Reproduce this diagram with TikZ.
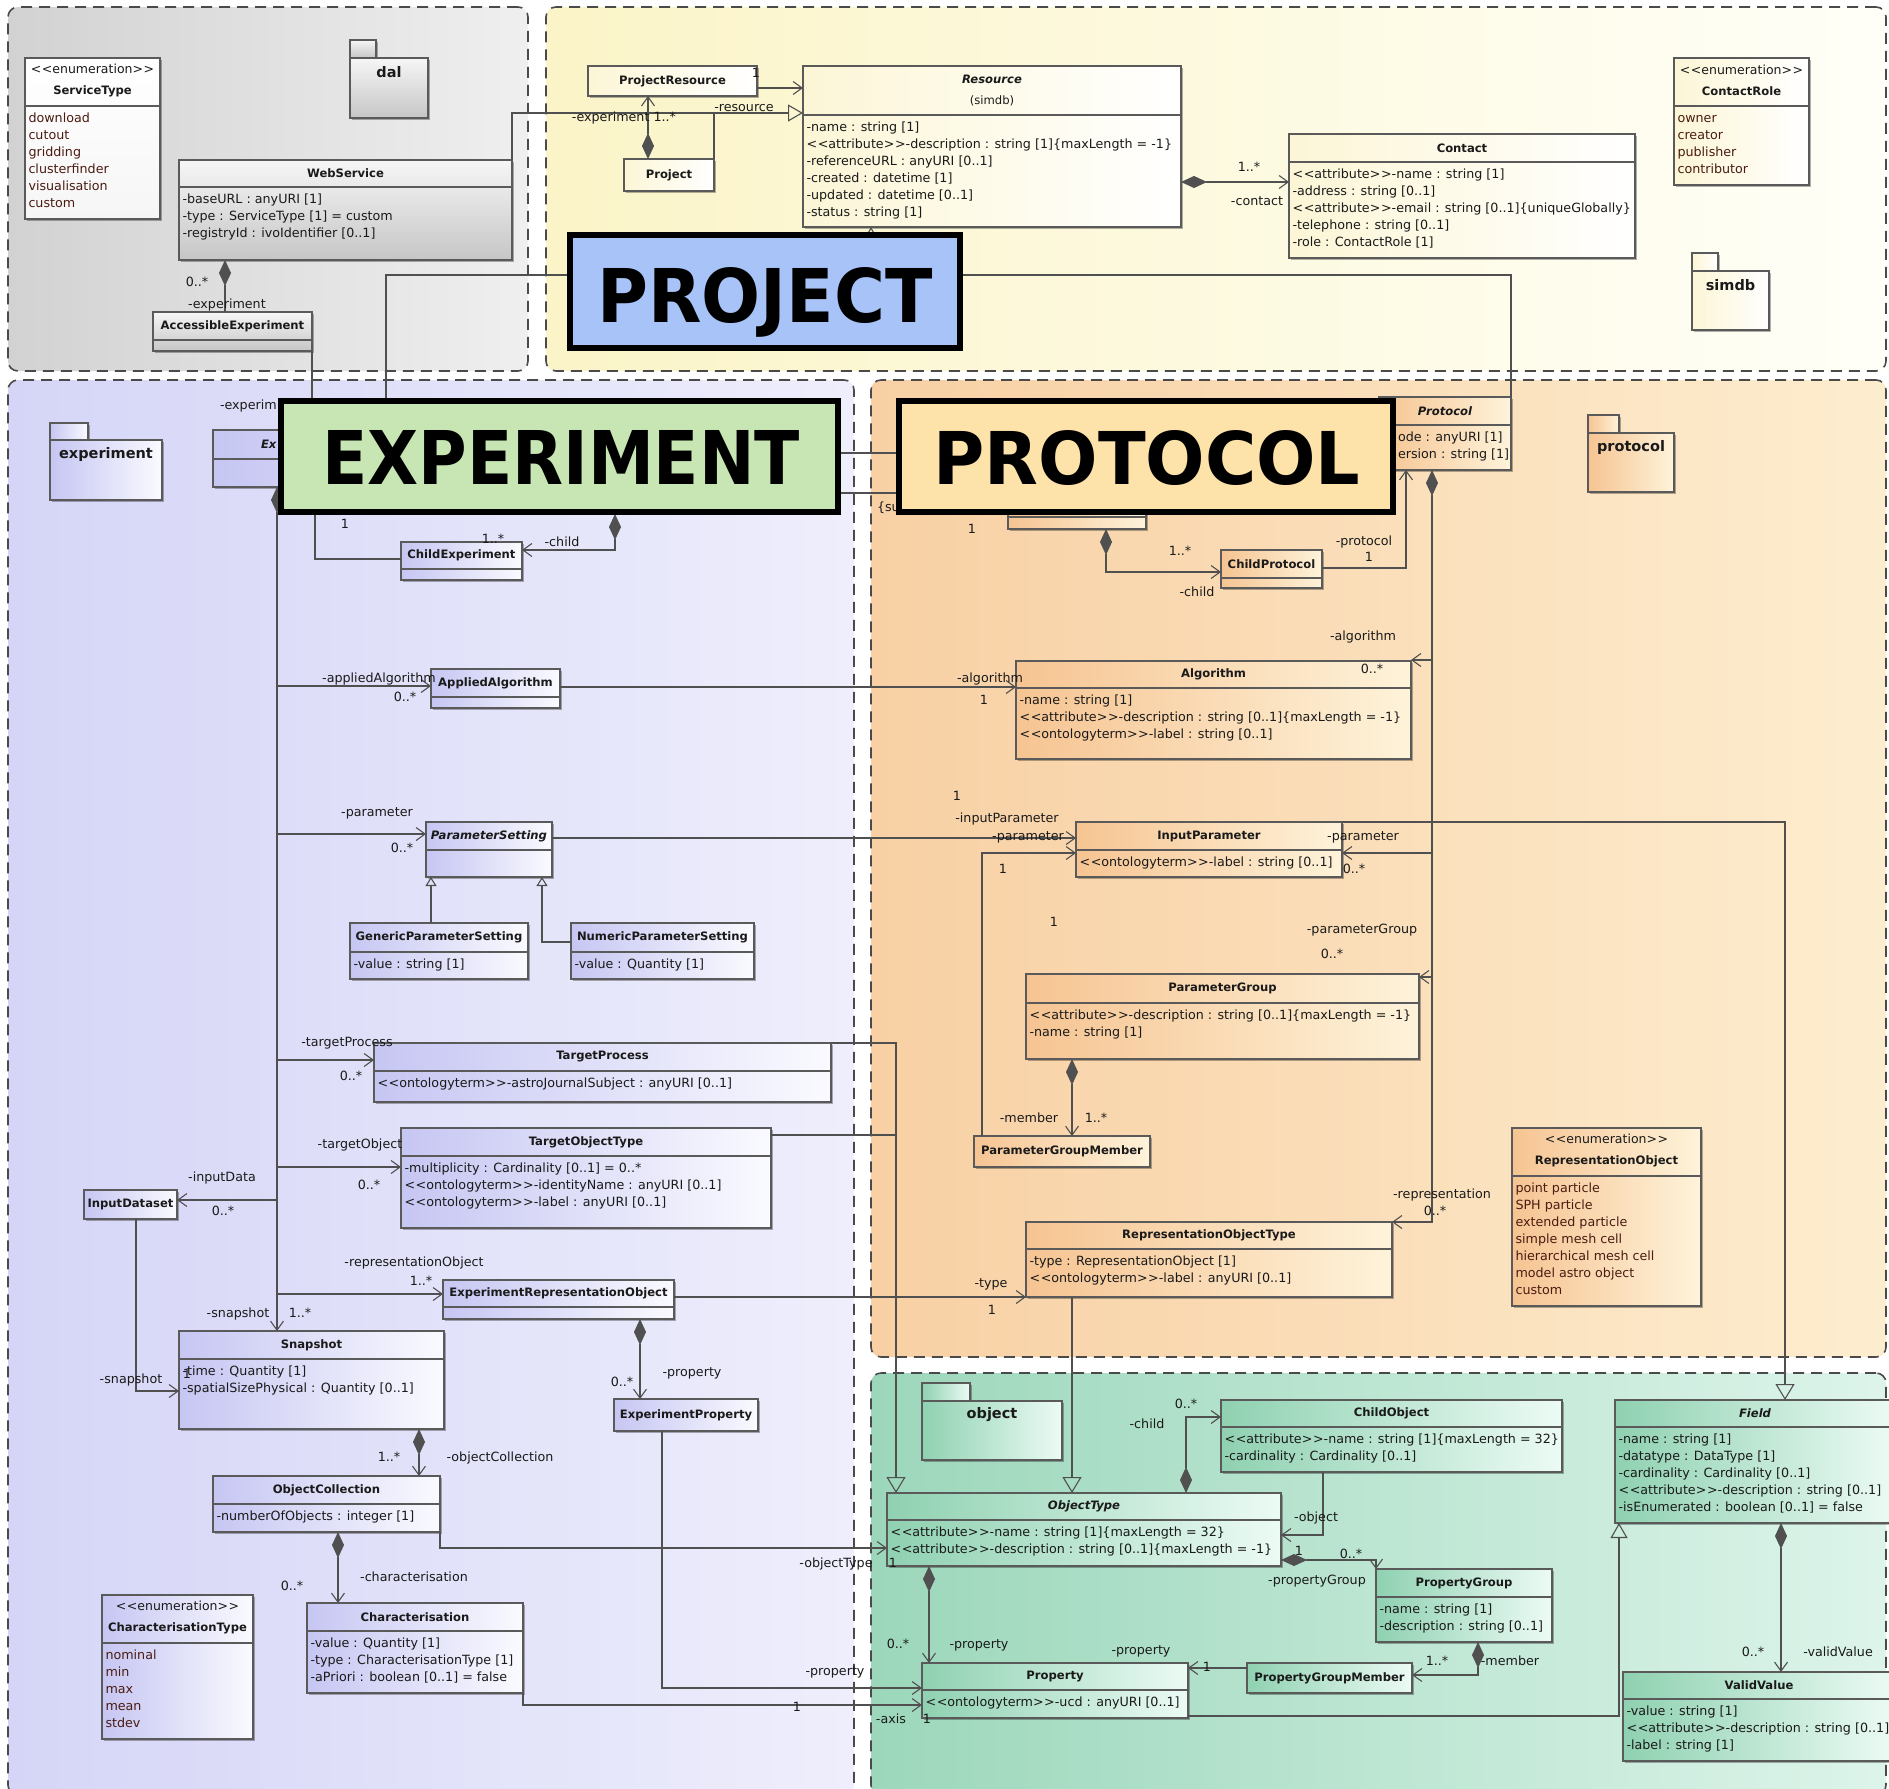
\documentclass[tikz,border=0pt]{standalone}
\usepackage{graphicx}
\usepackage{fontspec}
\setmainfont{DejaVu Sans}
\usetikzlibrary{arrows.meta,fit,shadows}
\definecolor{linec}{HTML}{505050}
\definecolor{boxc}{HTML}{5A5A5A}
\definecolor{txt}{HTML}{1A1A1A}
\definecolor{enumc}{HTML}{4A1C12}
\definecolor{regc}{HTML}{4A4A4A}
\definecolor{dalL}{HTML}{D2D2D2}
\definecolor{dalR}{HTML}{EFEFEF}
\definecolor{simL}{HTML}{FBF4C8}
\definecolor{simR}{HTML}{FFFFF8}
\definecolor{expL}{HTML}{D5D5F7}
\definecolor{expR}{HTML}{EEEEFC}
\definecolor{proL}{HTML}{F8D0A4}
\definecolor{proR}{HTML}{FDEDCF}
\definecolor{objL}{HTML}{9CD7BB}
\definecolor{objR}{HTML}{DDF4EA}
\definecolor{expBL}{HTML}{C6C6F3}
\definecolor{expBR}{HTML}{FAFAFF}
\definecolor{proBL}{HTML}{F6C492}
\definecolor{proBR}{HTML}{FEF3DA}
\definecolor{objBL}{HTML}{8FD1B1}
\definecolor{objBR}{HTML}{ECFBF5}
\definecolor{simBL}{HTML}{FCF6D6}
\definecolor{simBR}{HTML}{FFFFFF}
\definecolor{dalBT}{HTML}{F6F6F6}
\definecolor{dalBB}{HTML}{C6C6C6}
\definecolor{projc}{HTML}{A7C3F7}
\definecolor{expc}{HTML}{C8E6B3}
\definecolor{protc}{HTML}{FDE2A9}
\newcommand\attrf{\fontsize{12.7}{17}\selectfont}
\newcommand\titlef{\fontsize{11.6}{17}\selectfont\bfseries}
\newcommand\pkgf{\fontsize{14.5}{17}\selectfont\bfseries}
\newcommand\sterm[1]{<\kern0.6pt<#1>\kern0.6pt>}
\tikzset{
  every node/.style={inner sep=0pt, outer sep=0pt, text=txt},
  boxline/.style={draw=boxc, line width=1.1pt},
  ub/.style={draw=boxc, line width=1.1pt, drop shadow={shadow xshift=2pt, shadow yshift=-2pt, opacity=0.3, fill=black}},
  expbox/.style={ub, left color=expBL, right color=expBR},
  probox/.style={ub, left color=proBL, right color=proBR},
  objbox/.style={ub, left color=objBL, right color=objBR},
  simbox/.style={ub, left color=simBL, right color=simBR},
  dalbox/.style={ub, top color=dalBT, bottom color=dalBB},
  whitebox/.style={ub, top color=white, bottom color=dalBT},
  region/.style={draw=regc, line width=1.6pt, dash pattern=on 11pt off 7pt, rounded corners=10pt},
  ttl/.style={font=\titlef, align=center},
  attr/.style={font=\attrf, anchor=base west},
  lab/.style={font=\attrf, text height=9pt, text depth=2.5pt},
  pkgt/.style={font=\pkgf},
  biglab/.style={draw=black, line width=5.5pt},
  bigt/.style={text=black, anchor=base},
  con/.style={draw=linec, line width=1.1pt},
  oa/.style={con, -{Straight Barb[length=9pt,width=13pt]}},
  comp/.style={con, {Diamond[length=26pt,width=12pt]}-},
  compoa/.style={con, {Diamond[length=26pt,width=12pt]}-{Straight Barb[length=9pt,width=13pt]}},
  gen/.style={con, -{Triangle[open,length=15pt,width=17pt]}},
  gens/.style={con, -{Triangle[open,length=9pt,width=11pt]}},
  genb/.style={con, -{Triangle[open,length=16pt,width=19pt]}},
}
% class with attributes: name, style, x1, y1, x2, ydiv, y2, title, attrs
\newcommand\cls[9]{%
  \node[#2,fit={(#3,#4) (#5,#7)}] (#1) {};
  \draw[boxline] (#1.west |- 0,#6) -- (#1.east |- 0,#6);
  \node[ttl] (#1-t) at ({(#3+#5)/2},{(#4+#6)/2}) {#8};
  \foreach \attrtxt [count=\cnt] in {#9}{%
    \node[attr] (#1-a\cnt) at ({#3+3.5},{#6+16.5+17*(\cnt-1)}) {\attrtxt};}%
}
% class with empty attribute compartment
\newcommand\ecls[8]{%
  \node[#2,fit={(#3,#4) (#5,#7)}] (#1) {};
  \draw[boxline] (#1.west |- 0,#6) -- (#1.east |- 0,#6);
  \node[ttl] (#1-t) at ({(#3+#5)/2},{(#4+#6)/2}) {#8};
}
% single compartment class
\newcommand\scls[7]{%
  \node[#2,fit={(#3,#4) (#5,#6)}] (#1) {};
  \node[ttl] (#1-t) at ({(#3+#5)/2},{(#4+#6)/2}) {#7};
}
% enumeration
\newcommand\enm[9]{%
  \node[#2,fit={(#3,#4) (#5,#7)}] (#1) {};
  \draw[boxline] (#1.west |- 0,#6) -- (#1.east |- 0,#6);
  \node[ttl] (#1-t) at ({(#3+#5)/2},{(#4+#6)/2-1.5}) {{\mdseries\fontsize{12.5}{17}\selectfont\sterm{enumeration}}\\[4pt]#8};
  \foreach \attrtxt [count=\cnt] in {#9}{%
    \node[attr, text=enumc] (#1-a\cnt) at ({#3+3.5},{#6+16.5+17*(\cnt-1)}) {\attrtxt};}%
}
% package icon: name, style, x1, ytab, xtab, ybody, x2, y2, label
\newcommand\pkg[9]{%
  \node[#2,fit={(#3,#4) (#5,#6)}] (#1-tab) {};
  \node[#2,fit={(#3,#6) (#7,#8)}] (#1) {};
  \node[pkgt] (#1-l) at ({(#3+#7)/2},{#6+14}) {#9};
}
\newcommand\lbl[5][]{\node[lab,#1] (#2) at (#3,#4) {#5};}

\begin{document}
\begin{tikzpicture}[x=1pt,y=-1pt]
\useasboundingbox (0,0) rectangle (1889,1788);
\fill[white] (0,0) rectangle (1889,1788);

% ---------------- regions
\node[region, left color=dalL, right color=dalR, fit={(8,7) (528,371)}] (rDal) {};
\node[region, left color=simL, right color=simR, fit={(546,7) (1886,371)}] (rSim) {};
\node[region, left color=expL, right color=expR, fit={(8,380) (854,1795)}] (rExp) {};
\node[region, left color=proL, right color=proR, fit={(871,380) (1886,1357)}] (rPro) {};
\node[region, left color=objL, right color=objR, fit={(871,1373) (1886,1795)}] (rObj) {};

\coordinate (eT) at (277,0);
\coordinate (pT) at (1432,0);
\coordinate (hidA) at (871,300);
\coordinate (hidB) at (615,514);
\coordinate (hidC) at (700,493);
\coordinate (jTO) at (896,1135);

% ---------------- dal
\enm{cServiceType}{whitebox}{25}{58}{160}{106}{219}{ServiceType}{download,cutout,gridding,clusterfinder,visualisation,custom}
\pkg{pDal}{dalbox}{350}{40}{376}{58}{428}{118}{dal}
\cls{cWebService}{dalbox}{179}{160}{512}{187}{260}{WebService}{-baseURL : anyURI [1],-type : ServiceType [1] = custom,-registryId : ivoIdentifier [0..1]}
\ecls{cAccExp}{dalbox}{153}{312}{312}{340}{351}{AccessibleExperiment}

% ---------------- simdb
\scls{cProjRes}{simbox}{588}{66}{757}{96}{ProjectResource}
\scls{cProject}{simbox}{624}{159}{714}{191}{Project}
\cls{cResource}{simbox}{803}{66}{1181}{115}{227}{{\itshape Resource}\\[4pt]{\mdseries (simdb)}}{-name : string [1],\sterm{attribute}-description : string [1]\{maxLength = -1\},-referenceURL : anyURI [0..1],-created : datetime [1],-updated : datetime [0..1],-status : string [1]}
\cls{cContact}{simbox}{1289}{134}{1635}{162}{258}{Contact}{\sterm{attribute}-name : string [1],-address : string [0..1],\sterm{attribute}-email : string [0..1]\{uniqueGlobally\},-telephone : string [0..1],-role : ContactRole [1]}
\enm{cContactRole}{simbox}{1674}{58}{1809}{106}{185}{ContactRole}{owner,creator,publisher,contributor}
\pkg{pSimdb}{simbox}{1692}{253}{1718}{271}{1769}{330}{simdb}

% ---------------- experiment
\pkg{pExperiment}{expbox}{50}{423}{88}{440}{162}{500}{experiment}
\node[expbox, fit={(213,430) (700,487)}] (cExperiment) {};
\draw[boxline] (cExperiment.west |- 0,459) -- (cExperiment.east |- 0,459);
\node[ttl, anchor=west] (cExperiment-t) at (261,444) {\itshape Ex};
\ecls{cChildExp}{expbox}{401}{542}{522}{569}{580}{ChildExperiment}
\ecls{cAppAlg}{expbox}{431}{669}{560}{697}{708}{AppliedAlgorithm}
\ecls{cParamSet}{expbox}{426}{822}{552}{850}{877}{\itshape ParameterSetting}
\cls{cGenPS}{expbox}{350}{923}{528}{952}{979}{GenericParameterSetting}{-value : string [1]}
\cls{cNumPS}{expbox}{571}{923}{754}{952}{979}{NumericParameterSetting}{-value : Quantity [1]}
\cls{cTargetProc}{expbox}{374}{1043}{831}{1071}{1102}{TargetProcess}{\sterm{ontologyterm}-astroJournalSubject : anyURI [0..1]}
\cls{cTargetObj}{expbox}{401}{1128}{771}{1156}{1228}{TargetObjectType}{-multiplicity : Cardinality [0..1] = 0..*,\sterm{ontologyterm}-identityName : anyURI [0..1],\sterm{ontologyterm}-label : anyURI [0..1]}
\scls{cInputDS}{expbox}{84}{1190}{177}{1219}{InputDataset}
\ecls{cERO}{expbox}{443}{1280}{674}{1307}{1319}{ExperimentRepresentationObject}
\cls{cSnapshot}{expbox}{179}{1331}{444}{1359}{1429}{Snapshot}{-time : Quantity [1],-spatialSizePhysical : Quantity [0..1]}
\scls{cExpProp}{expbox}{614}{1399}{758}{1431}{ExperimentProperty}
\cls{cObjColl}{expbox}{213}{1476}{440}{1504}{1532}{ObjectCollection}{-numberOfObjects : integer [1]}
\cls{cCharac}{expbox}{307}{1603}{523}{1631}{1693}{Characterisation}{-value : Quantity [1],-type : CharacterisationType [1],-aPriori : boolean [0..1] = false}
\enm{cCharType}{expbox}{102}{1595}{253}{1643}{1739}{CharacterisationType}{nominal,min,max,mean,stdev}

% ---------------- protocol
\pkg{pProtocol}{probox}{1588}{415}{1619}{433}{1674}{492}{protocol}
\node[probox, fit={(1379,397) (1511,470)}] (cProtocol) {};
\draw[boxline] (cProtocol.west |- 0,425) -- (cProtocol.east |- 0,425);
\node[ttl] (cProtocol-t) at (1445,411) {\itshape Protocol};
\node[attr] (cProtocol-a1) at (1398,441.5) {ode : anyURI [1]};
\node[attr] (cProtocol-a2) at (1398,458.5) {ersion : string [1]};
\node[probox, fit={(1008,480) (1146,529)}] (cHidP) {};
\draw[boxline] (cHidP.west |- 0,517) -- (cHidP.east |- 0,517);
\ecls{cChildProt}{probox}{1221}{550}{1322}{578}{588}{ChildProtocol}
\cls{cAlgorithm}{probox}{1016}{661}{1411}{688}{759}{Algorithm}{-name : string [1],\sterm{attribute}-description : string [0..1]\{maxLength = -1\},\sterm{ontologyterm}-label : string [0..1]}
\cls{cInputParam}{probox}{1076}{822}{1342}{850}{877}{InputParameter}{\sterm{ontologyterm}-label : string [0..1]}
\cls{cParamGroup}{probox}{1026}{974}{1419}{1003}{1059}{ParameterGroup}{\sterm{attribute}-description : string [0..1]\{maxLength = -1\},-name : string [1]}
\scls{cPGM}{probox}{974}{1136}{1150}{1167}{ParameterGroupMember}
\cls{cROT}{probox}{1026}{1222}{1392}{1249}{1297}{RepresentationObjectType}{-type : RepresentationObject [1],\sterm{ontologyterm}-label : anyURI [0..1]}
\enm{cRepObj}{probox}{1512}{1128}{1701}{1176}{1306}{RepresentationObject}{point particle,SPH particle,extended particle,simple mesh cell,hierarchical mesh cell,model astro object,custom}

% ---------------- object
\pkg{pObject}{objbox}{922}{1383}{970}{1401}{1062}{1460}{object}
\cls{cObjectType}{objbox}{887}{1493}{1281}{1520}{1566}{\itshape ObjectType}{\sterm{attribute}-name : string [1]\{maxLength = 32\},\sterm{attribute}-description : string [0..1]\{maxLength = -1\}}
\cls{cChildObj}{objbox}{1221}{1400}{1562}{1427}{1472}{ChildObject}{\sterm{attribute}-name : string [1]\{maxLength = 32\},-cardinality : Cardinality [0..1]}
\cls{cPropGroup}{objbox}{1376}{1569}{1552}{1597}{1642}{PropertyGroup}{-name : string [1],-description : string [0..1]}
\scls{cPGMem}{objbox}{1247}{1663}{1412}{1693}{PropertyGroupMember}
\cls{cProperty}{objbox}{922}{1663}{1188}{1690}{1718}{Property}{\sterm{ontologyterm}-ucd : anyURI [0..1]}
\cls{cField}{objbox}{1615}{1400}{1895}{1427}{1523}{\itshape Field}{-name : string [1],-datatype : DataType [1],-cardinality : Cardinality [0..1],\sterm{attribute}-description : string [0..1],-isEnumerated : boolean [0..1] = false}
\cls{cValidValue}{objbox}{1623}{1672}{1895}{1699}{1761}{ValidValue}{-value : string [1],\sterm{attribute}-description : string [0..1]\{maxLength = -1\},-label : string [1]}

% ---------------- connectors: dal / simdb
\draw[comp] (cWebService.south -| 225,0) -- (cAccExp.north -| 225,0);
\draw[con] (cAccExp.south -| 312,0) -- (cExperiment.north -| 312,0);
\draw[con] (cWebService.north east) |- (cProject.north east |- 0,113);
\draw[gen] (cProject.north east) |- (cResource.west |- 0,113);
\draw[oa] (cProjRes.east |- 0,88) -- (cResource.west |- 0,88);
\draw[compoa] (cProject.north -| 648,0) -- (cProjRes.south -| 648,0);
\draw[compoa] (cResource.east |- 0,182) -- (cContact.west |- 0,182);
\draw[gen] (hidA) -- (cResource.south -| hidA);
\draw[con] (cExperiment.north -| 386,0) |- (cProtocol.north east |- 0,275) -- (cProtocol.north east);

% ---------------- connectors: experiment
\draw[compoa] (cExperiment.south -| eT) -- (cSnapshot.north -| eT);
\draw[con] (cExperiment.south -| 315,0) |- (cChildExp.west |- 0,559);
\draw[compoa] (hidB) |- (cChildExp.east |- 0,550);
\draw[oa] (eT |- 0,686) -- (cAppAlg.west |- 0,686);
\draw[oa] (cAppAlg.east |- 0,687) -- (cAlgorithm.west |- 0,687);
\draw[oa] (eT |- 0,834) -- (cParamSet.west |- 0,834);
\draw[oa] (cParamSet.east |- 0,838) -- (cInputParam.west |- 0,838);
\draw[gens] (cGenPS.north -| 431,0) -- (cParamSet.south -| 431,0);
\draw[gens] (cNumPS.west |- 0,942) -| (cParamSet.south -| 542,0);
\draw[oa] (eT |- 0,1060) -- (cTargetProc.west |- 0,1060);
\draw[genb] (cTargetProc.north east) -| (cObjectType.north -| 896,0);
\draw[con] (cTargetObj.east |- jTO) -- (jTO);
\draw[oa] (eT |- 0,1167) -- (cTargetObj.west |- 0,1167);
\draw[oa] (eT |- 0,1200) -- (cInputDS.east |- 0,1200);
\draw[oa] (cInputDS.south -| 136,0) |- (cSnapshot.west |- 0,1391);
\draw[oa] (eT |- 0,1294) -- (cERO.west |- 0,1294);
\draw[oa] (cERO.east |- 0,1297) -- (cROT.west |- 0,1297);
\draw[compoa] (cERO.south -| 640,0) -- (cExpProp.north -| 640,0);
\draw[oa] (cExpProp.south -| 662,0) |- (cProperty.west |- 0,1688);
\draw[compoa] (cSnapshot.south -| 419,0) -- (cObjColl.north -| 419,0);
\draw[oa] (cObjColl.south east) |- (cObjectType.west |- 0,1548);
\draw[compoa] (cObjColl.south -| 338,0) -- (cCharac.north -| 338,0);
\draw[oa] (cCharac.south east) |- (cProperty.west |- 0,1705);

% ---------------- connectors: protocol
\draw[con] (cExperiment.east |- 0,453) -- (cProtocol.west |- 0,453);
\draw[con] (hidC) -- (cHidP.west |- hidC);
\draw[compoa] (cHidP.south -| 1106,0) |- (cChildProt.west |- 0,572);
\draw[oa] (cChildProt.east |- 0,568) -| (cProtocol.south -| 1406,0);
\draw[compoa] (cProtocol.south -| pT) |- (cROT.east |- 0,1222);
\draw[oa] (pT |- 0,660) -- (cAlgorithm.east |- 0,660);
\draw[oa] (pT |- 0,853) -- (cInputParam.east |- 0,853);
\draw[oa] (pT |- 0,977) -- (cParamGroup.east |- 0,977);
\draw[genb] (cInputParam.north east) -| (cField.north -| 1785,0);
\draw[oa] (cPGM.north -| 982,0) |- (cInputParam.west |- 0,853);
\draw[compoa] (cParamGroup.south -| 1072,0) -- (cPGM.north -| 1072,0);
\draw[genb] (cROT.south -| 1072,0) -- (cObjectType.north -| 1072,0);

% ---------------- connectors: object
\draw[compoa] (cObjectType.north -| 1186,0) |- (cChildObj.west |- 0,1417);
\draw[oa] (cChildObj.south -| 1323,0) |- (cObjectType.east |- 0,1535);
\draw[compoa] (cObjectType.east |- 0,1560) -| (cPropGroup.north west);
\draw[compoa] (cPropGroup.south -| 1478,0) |- (cPGMem.east |- 0,1675);
\draw[oa] (cPGMem.west |- 0,1668) -- (cProperty.east |- 0,1668);
\draw[gen] (cProperty.east |- 0,1716) -| (cField.south -| 1619,0);
\draw[compoa] (cField.south -| 1781,0) -- (cValidValue.north -| 1781,0);
\draw[compoa] (cObjectType.south -| 929,0) -- (cProperty.north -| 929,0);

% ---------------- labels
\lbl{l1}{197}{283}{0..*}
\lbl{l2}{227}{305}{-experiment}
\lbl{l3}{624}{118}{-experiment 1..*}
\lbl{l4}{744}{108}{-resource}
\lbl{l5}{756}{74}{1}
\lbl{l6}{1249}{168}{1..*}
\lbl{l7}{1257}{202}{-contact}
\lbl[anchor=west]{l8}{220}{406}{-experim}
\lbl{l9}{345}{525}{1}
\lbl{l10}{493}{540}{1..*}
\lbl{l11}{562}{543}{-child}
\lbl{l12}{379}{679}{-appliedAlgorithm}
\lbl{l13}{405}{698}{0..*}
\lbl{l14}{377}{813}{-parameter}
\lbl{l15}{402}{849}{0..*}
\lbl{l16}{347}{1043}{-targetProcess}
\lbl{l17}{351}{1077}{0..*}
\lbl{l18}{360}{1145}{-targetObject}
\lbl{l19}{369}{1186}{0..*}
\lbl{l20}{222}{1178}{-inputData}
\lbl{l21}{223}{1212}{0..*}
\lbl{l22}{414}{1263}{-representationObject}
\lbl{l23}{421}{1282}{1..*}
\lbl{l24}{238}{1314}{-snapshot}
\lbl{l25}{300}{1314}{1..*}
\lbl{l26}{131}{1380}{-snapshot}
\lbl{l27}{187}{1375}{1}
\lbl{l28}{389}{1458}{1..*}
\lbl{l29}{500}{1458}{-objectCollection}
\lbl{l30}{292}{1587}{0..*}
\lbl{l31}{414}{1578}{-characterisation}
\lbl{l32}{692}{1373}{-property}
\lbl{l33}{622}{1383}{0..*}
\lbl{l34}{836}{1564}{-objectType}
\lbl{l35}{893}{1564}{1}
\lbl{l36}{835}{1672}{-property}
\lbl{l37}{797}{1708}{1}
\lbl{l38}{891}{1720}{-axis}
\lbl{l39}{927}{1720}{1}
\lbl[anchor=west]{l40}{877}{508}{\{su}
\lbl{l41}{972}{530}{1}
\lbl{l42}{1180}{552}{1..*}
\lbl{l43}{1197}{593}{-child}
\lbl{l44}{1364}{542}{-protocol}
\lbl{l45}{1369}{558}{1}
\lbl{l46}{1363}{637}{-algorithm}
\lbl{l47}{1372}{670}{0..*}
\lbl{l48}{990}{679}{-algorithm}
\lbl{l49}{984}{701}{1}
\lbl{l50}{957}{797}{1}
\lbl{l51}{1007}{819}{-inputParameter}
\lbl{l52}{1028}{837}{-parameter}
\lbl{l53}{1003}{870}{1}
\lbl{l54}{1363}{837}{-parameter}
\lbl{l55}{1354}{870}{0..*}
\lbl{l56}{1054}{923}{1}
\lbl{l57}{1362}{930}{-parameterGroup}
\lbl{l58}{1332}{955}{0..*}
\lbl{l59}{1029}{1119}{-member}
\lbl{l60}{1096}{1119}{1..*}
\lbl{l61}{1442}{1195}{-representation}
\lbl{l62}{1435}{1212}{0..*}
\lbl{l63}{991}{1284}{-type}
\lbl{l64}{992}{1311}{1}
\lbl{l65}{1186}{1405}{0..*}
\lbl{l66}{1147}{1425}{-child}
\lbl{l67}{1316}{1518}{-object}
\lbl{l68}{1299}{1552}{1}
\lbl{l69}{1351}{1555}{0..*}
\lbl{l70}{1317}{1581}{-propertyGroup}
\lbl{l71}{1437}{1662}{1..*}
\lbl{l72}{1510}{1662}{-member}
\lbl{l73}{1141}{1651}{-property}
\lbl{l74}{1207}{1668}{1}
\lbl{l75}{898}{1645}{0..*}
\lbl{l76}{979}{1645}{-property}
\lbl{l77}{1753}{1653}{0..*}
\lbl{l78}{1838}{1653}{-validValue}

% ---------------- big labels
\node[biglab, fill=projc, fit={(570,235) (960,348)}] (bProj) {};
\node[bigt] (bProjT) at (765,322) {\resizebox{335pt}{55pt}{\bfseries PROJECT}};
\node[biglab, fill=expc, fit={(281,401) (838,512)}] (bExp) {};
\node[bigt] (bExpT) at (561,484) {\resizebox{478pt}{54pt}{\bfseries EXPERIMENT}};
\node[biglab, fill=protc, fit={(899,401) (1393,512)}] (bProt) {};
\node[bigt] (bProtT) at (1147,484) {\resizebox{427pt}{54pt}{\bfseries PROTOCOL}};
\end{tikzpicture}
\end{document}
